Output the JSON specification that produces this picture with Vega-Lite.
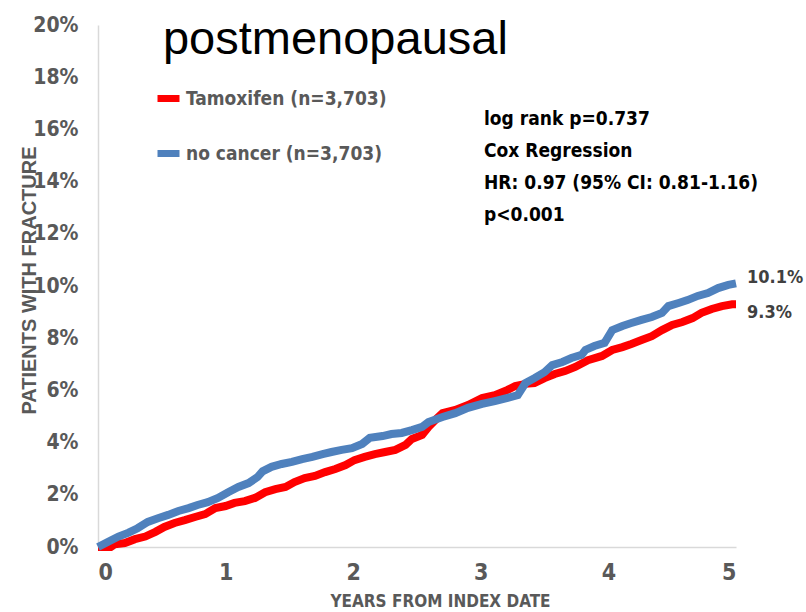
{
  "$schema": "https://vega.github.io/schema/vega-lite/v6.json",
  "width": 638,
  "height": 522,
  "autosize": {"type": "none"},
  "padding": {"left": 98, "top": 25, "right": 70, "bottom": 65},
  "background": "white",
  "config": {
    "view": {"stroke": null},
    "axis": {
      "grid": false,
      "ticks": false,
      "tickSize": 0,
      "domainColor": "#D9D9D9",
      "domainWidth": 1.5,
      "labelColor": "#595959",
      "labelFont": "DejaVu Sans Condensed, Liberation Sans, sans-serif",
      "labelFontWeight": "bold",
      "titleColor": "#595959",
      "titleFontWeight": "bold"
    }
  },
  "datasets": {
    "curves": [
      {"series": "Tamoxifen (n=3,703)", "t": 0, "p": 0},
      {"series": "Tamoxifen (n=3,703)", "t": 0.10, "p": 0},
      {"series": "Tamoxifen (n=3,703)", "t": 0.13, "p": 0.001},
      {"series": "Tamoxifen (n=3,703)", "t": 0.21, "p": 0.0015},
      {"series": "Tamoxifen (n=3,703)", "t": 0.29, "p": 0.003},
      {"series": "Tamoxifen (n=3,703)", "t": 0.37, "p": 0.004},
      {"series": "Tamoxifen (n=3,703)", "t": 0.45, "p": 0.0058},
      {"series": "Tamoxifen (n=3,703)", "t": 0.52, "p": 0.0077},
      {"series": "Tamoxifen (n=3,703)", "t": 0.60, "p": 0.0092},
      {"series": "Tamoxifen (n=3,703)", "t": 0.68, "p": 0.0103},
      {"series": "Tamoxifen (n=3,703)", "t": 0.76, "p": 0.0115},
      {"series": "Tamoxifen (n=3,703)", "t": 0.84, "p": 0.0126},
      {"series": "Tamoxifen (n=3,703)", "t": 0.92, "p": 0.0149},
      {"series": "Tamoxifen (n=3,703)", "t": 1.00, "p": 0.0157},
      {"series": "Tamoxifen (n=3,703)", "t": 1.07, "p": 0.0169},
      {"series": "Tamoxifen (n=3,703)", "t": 1.15, "p": 0.0176},
      {"series": "Tamoxifen (n=3,703)", "t": 1.23, "p": 0.0188},
      {"series": "Tamoxifen (n=3,703)", "t": 1.31, "p": 0.021},
      {"series": "Tamoxifen (n=3,703)", "t": 1.39, "p": 0.0222},
      {"series": "Tamoxifen (n=3,703)", "t": 1.47, "p": 0.023},
      {"series": "Tamoxifen (n=3,703)", "t": 1.54, "p": 0.0249},
      {"series": "Tamoxifen (n=3,703)", "t": 1.62, "p": 0.0264},
      {"series": "Tamoxifen (n=3,703)", "t": 1.70, "p": 0.0272},
      {"series": "Tamoxifen (n=3,703)", "t": 1.78, "p": 0.0287},
      {"series": "Tamoxifen (n=3,703)", "t": 1.86, "p": 0.0299},
      {"series": "Tamoxifen (n=3,703)", "t": 1.94, "p": 0.0314},
      {"series": "Tamoxifen (n=3,703)", "t": 2.01, "p": 0.0333},
      {"series": "Tamoxifen (n=3,703)", "t": 2.09, "p": 0.0345},
      {"series": "Tamoxifen (n=3,703)", "t": 2.17, "p": 0.0356},
      {"series": "Tamoxifen (n=3,703)", "t": 2.25, "p": 0.0364},
      {"series": "Tamoxifen (n=3,703)", "t": 2.33, "p": 0.0372},
      {"series": "Tamoxifen (n=3,703)", "t": 2.41, "p": 0.0391},
      {"series": "Tamoxifen (n=3,703)", "t": 2.46, "p": 0.0414},
      {"series": "Tamoxifen (n=3,703)", "t": 2.54, "p": 0.0429},
      {"series": "Tamoxifen (n=3,703)", "t": 2.59, "p": 0.046},
      {"series": "Tamoxifen (n=3,703)", "t": 2.65, "p": 0.049},
      {"series": "Tamoxifen (n=3,703)", "t": 2.70, "p": 0.0513},
      {"series": "Tamoxifen (n=3,703)", "t": 2.80, "p": 0.0525},
      {"series": "Tamoxifen (n=3,703)", "t": 2.90, "p": 0.0544},
      {"series": "Tamoxifen (n=3,703)", "t": 3.01, "p": 0.0571},
      {"series": "Tamoxifen (n=3,703)", "t": 3.11, "p": 0.0582},
      {"series": "Tamoxifen (n=3,703)", "t": 3.21, "p": 0.0602},
      {"series": "Tamoxifen (n=3,703)", "t": 3.27, "p": 0.0617},
      {"series": "Tamoxifen (n=3,703)", "t": 3.35, "p": 0.0625},
      {"series": "Tamoxifen (n=3,703)", "t": 3.42, "p": 0.0628},
      {"series": "Tamoxifen (n=3,703)", "t": 3.50, "p": 0.0647},
      {"series": "Tamoxifen (n=3,703)", "t": 3.58, "p": 0.0663},
      {"series": "Tamoxifen (n=3,703)", "t": 3.66, "p": 0.0674},
      {"series": "Tamoxifen (n=3,703)", "t": 3.74, "p": 0.069},
      {"series": "Tamoxifen (n=3,703)", "t": 3.84, "p": 0.0716},
      {"series": "Tamoxifen (n=3,703)", "t": 3.95, "p": 0.0732},
      {"series": "Tamoxifen (n=3,703)", "t": 4.03, "p": 0.0755},
      {"series": "Tamoxifen (n=3,703)", "t": 4.11, "p": 0.0766},
      {"series": "Tamoxifen (n=3,703)", "t": 4.18, "p": 0.0778},
      {"series": "Tamoxifen (n=3,703)", "t": 4.26, "p": 0.0793},
      {"series": "Tamoxifen (n=3,703)", "t": 4.34, "p": 0.0808},
      {"series": "Tamoxifen (n=3,703)", "t": 4.42, "p": 0.0831},
      {"series": "Tamoxifen (n=3,703)", "t": 4.50, "p": 0.0851},
      {"series": "Tamoxifen (n=3,703)", "t": 4.58, "p": 0.0862},
      {"series": "Tamoxifen (n=3,703)", "t": 4.66, "p": 0.0877},
      {"series": "Tamoxifen (n=3,703)", "t": 4.73, "p": 0.0897},
      {"series": "Tamoxifen (n=3,703)", "t": 4.81, "p": 0.0912},
      {"series": "Tamoxifen (n=3,703)", "t": 4.89, "p": 0.0923},
      {"series": "Tamoxifen (n=3,703)", "t": 4.97, "p": 0.093},
      {"series": "Tamoxifen (n=3,703)", "t": 5.00, "p": 0.093},
      {"series": "no cancer (n=3,703)", "t": 0, "p": 0},
      {"series": "no cancer (n=3,703)", "t": 0.08, "p": 0.002},
      {"series": "no cancer (n=3,703)", "t": 0.16, "p": 0.004},
      {"series": "no cancer (n=3,703)", "t": 0.24, "p": 0.0055},
      {"series": "no cancer (n=3,703)", "t": 0.31, "p": 0.0072},
      {"series": "no cancer (n=3,703)", "t": 0.39, "p": 0.0096},
      {"series": "no cancer (n=3,703)", "t": 0.47, "p": 0.011},
      {"series": "no cancer (n=3,703)", "t": 0.55, "p": 0.0123},
      {"series": "no cancer (n=3,703)", "t": 0.63, "p": 0.0138},
      {"series": "no cancer (n=3,703)", "t": 0.71, "p": 0.0149},
      {"series": "no cancer (n=3,703)", "t": 0.78, "p": 0.0161},
      {"series": "no cancer (n=3,703)", "t": 0.86, "p": 0.0172},
      {"series": "no cancer (n=3,703)", "t": 0.94, "p": 0.0188},
      {"series": "no cancer (n=3,703)", "t": 1.02, "p": 0.021},
      {"series": "no cancer (n=3,703)", "t": 1.10, "p": 0.023},
      {"series": "no cancer (n=3,703)", "t": 1.18, "p": 0.0245},
      {"series": "no cancer (n=3,703)", "t": 1.25, "p": 0.0268},
      {"series": "no cancer (n=3,703)", "t": 1.29, "p": 0.029},
      {"series": "no cancer (n=3,703)", "t": 1.36, "p": 0.0307},
      {"series": "no cancer (n=3,703)", "t": 1.44, "p": 0.0318},
      {"series": "no cancer (n=3,703)", "t": 1.52, "p": 0.0326},
      {"series": "no cancer (n=3,703)", "t": 1.60, "p": 0.0337},
      {"series": "no cancer (n=3,703)", "t": 1.68, "p": 0.0345},
      {"series": "no cancer (n=3,703)", "t": 1.76, "p": 0.0356},
      {"series": "no cancer (n=3,703)", "t": 1.83, "p": 0.0364},
      {"series": "no cancer (n=3,703)", "t": 1.91, "p": 0.0372},
      {"series": "no cancer (n=3,703)", "t": 1.99, "p": 0.0379},
      {"series": "no cancer (n=3,703)", "t": 2.07, "p": 0.0395},
      {"series": "no cancer (n=3,703)", "t": 2.13, "p": 0.0418},
      {"series": "no cancer (n=3,703)", "t": 2.23, "p": 0.0425},
      {"series": "no cancer (n=3,703)", "t": 2.30, "p": 0.0433},
      {"series": "no cancer (n=3,703)", "t": 2.38, "p": 0.0437},
      {"series": "no cancer (n=3,703)", "t": 2.46, "p": 0.0448},
      {"series": "no cancer (n=3,703)", "t": 2.54, "p": 0.046},
      {"series": "no cancer (n=3,703)", "t": 2.59, "p": 0.0479},
      {"series": "no cancer (n=3,703)", "t": 2.70, "p": 0.0498},
      {"series": "no cancer (n=3,703)", "t": 2.80, "p": 0.0513},
      {"series": "no cancer (n=3,703)", "t": 2.90, "p": 0.0533},
      {"series": "no cancer (n=3,703)", "t": 3.01, "p": 0.0548},
      {"series": "no cancer (n=3,703)", "t": 3.11, "p": 0.0559},
      {"series": "no cancer (n=3,703)", "t": 3.21, "p": 0.0571},
      {"series": "no cancer (n=3,703)", "t": 3.29, "p": 0.0582},
      {"series": "no cancer (n=3,703)", "t": 3.35, "p": 0.0628},
      {"series": "no cancer (n=3,703)", "t": 3.42, "p": 0.0647},
      {"series": "no cancer (n=3,703)", "t": 3.50, "p": 0.067},
      {"series": "no cancer (n=3,703)", "t": 3.56, "p": 0.0697},
      {"series": "no cancer (n=3,703)", "t": 3.64, "p": 0.0709},
      {"series": "no cancer (n=3,703)", "t": 3.71, "p": 0.0724},
      {"series": "no cancer (n=3,703)", "t": 3.79, "p": 0.0736},
      {"series": "no cancer (n=3,703)", "t": 3.82, "p": 0.0755},
      {"series": "no cancer (n=3,703)", "t": 3.89, "p": 0.077},
      {"series": "no cancer (n=3,703)", "t": 3.97, "p": 0.0782},
      {"series": "no cancer (n=3,703)", "t": 4.03, "p": 0.0831},
      {"series": "no cancer (n=3,703)", "t": 4.11, "p": 0.0847},
      {"series": "no cancer (n=3,703)", "t": 4.18, "p": 0.0858},
      {"series": "no cancer (n=3,703)", "t": 4.26, "p": 0.087},
      {"series": "no cancer (n=3,703)", "t": 4.34, "p": 0.0881},
      {"series": "no cancer (n=3,703)", "t": 4.42, "p": 0.0897},
      {"series": "no cancer (n=3,703)", "t": 4.47, "p": 0.0923},
      {"series": "no cancer (n=3,703)", "t": 4.55, "p": 0.0935},
      {"series": "no cancer (n=3,703)", "t": 4.62, "p": 0.0946},
      {"series": "no cancer (n=3,703)", "t": 4.70, "p": 0.0962},
      {"series": "no cancer (n=3,703)", "t": 4.78, "p": 0.0973},
      {"series": "no cancer (n=3,703)", "t": 4.86, "p": 0.0992},
      {"series": "no cancer (n=3,703)", "t": 4.94, "p": 0.1004},
      {"series": "no cancer (n=3,703)", "t": 5.00, "p": 0.101}
    ],
    "ends": [
      {"series": "no cancer (n=3,703)", "t": 5, "p": 0.101, "label": "10.1%"},
      {"series": "Tamoxifen (n=3,703)", "t": 5, "p": 0.093, "label": "9.3%"}
    ],
    "one": [{"id": 1}]
  },
  "layer": [
    {
      "data": {"name": "curves"},
      "mark": {"type": "line", "interpolate": "linear", "strokeWidth": 8, "strokeCap": "butt", "strokeJoin": "miter"},
      "encoding": {
        "x": {
          "field": "t", "type": "quantitative",
          "scale": {"domain": [0, 5], "nice": false},
          "axis": {
            "values": [0, 1, 2, 3, 4, 5], "format": "d",
            "labelFontSize": 23, "labelPadding": 14,
            "title": "YEARS FROM INDEX DATE",
            "titleFont": "DejaVu Sans Condensed, Liberation Sans, sans-serif", "titleFontSize": 17,
            "titleX": 342, "titleY": 54, "titleBaseline": "middle", "titleAlign": "center"
          }
        },
        "y": {
          "field": "p", "type": "quantitative",
          "scale": {"domain": [0, 0.2], "nice": false},
          "axis": {
            "values": [0, 0.02, 0.04, 0.06, 0.08, 0.1, 0.12, 0.14, 0.16, 0.18, 0.2],
            "format": ".0%",
            "labelFontSize": 21, "labelPadding": 20,
            "title": "PATIENTS WITH FRACTURE",
            "titleFont": "Liberation Sans", "titleFontSize": 20,
            "titleX": -69, "titleY": 255, "titleAngle": -90,
            "titleBaseline": "middle", "titleAlign": "center"
          }
        },
        "color": {
          "field": "series", "type": "nominal",
          "scale": {"domain": ["Tamoxifen (n=3,703)", "no cancer (n=3,703)"], "range": ["#FF0000", "#4F81BD"]},
          "legend": {
            "title": null,
            "orient": "none",
            "legendX": 56,
            "legendY": 59,
            "padding": 0,
            "symbolType": "stroke",
            "symbolSize": 484,
            "symbolStrokeWidth": 7,
            "labelFont": "DejaVu Sans Condensed, Liberation Sans, sans-serif",
            "labelFontWeight": "bold",
            "labelFontSize": 19,
            "labelColor": "#595959",
            "labelOffset": 3,
            "labelLimit": 0,
            "rowPadding": 26
          }
        }
      }
    },
    {
      "data": {"name": "one"},
      "mark": {
        "type": "text",
        "text": "postmenopausal",
        "font": "Liberation Sans",
        "fontSize": 47,
        "align": "left",
        "baseline": "alphabetic",
        "color": "#000000"
      },
      "encoding": {
        "x": {"datum": 0.509, "type": "quantitative"},
        "y": {"datum": 0.1889, "type": "quantitative"}
      }
    },
    {
      "data": {"name": "one"},
      "mark": {
        "type": "text",
        "text": ["log rank p=0.737", "Cox Regression", "HR: 0.97 (95%  CI: 0.81-1.16)", "p<0.001"],
        "font": "DejaVu Sans Condensed, Liberation Sans, sans-serif",
        "fontWeight": "bold",
        "fontSize": 19,
        "lineHeight": 32,
        "align": "left",
        "baseline": "alphabetic",
        "color": "#000000"
      },
      "encoding": {
        "x": {"datum": 3.025, "type": "quantitative"},
        "y": {"datum": 0.1617, "type": "quantitative"}
      }
    },
    {
      "data": {"name": "ends"},
      "transform": [{"filter": "datum.label === '10.1%'"}],
      "mark": {"type": "text", "font": "DejaVu Sans Condensed, Liberation Sans, sans-serif", "fontWeight": "bold", "fontSize": 18, "align": "left", "baseline": "middle", "dx": 11, "dy": -5, "color": "#404040"},
      "encoding": {
        "x": {"field": "t", "type": "quantitative"},
        "y": {"field": "p", "type": "quantitative"},
        "text": {"field": "label"}
      }
    },
    {
      "data": {"name": "ends"},
      "transform": [{"filter": "datum.label === '9.3%'"}],
      "mark": {"type": "text", "font": "DejaVu Sans Condensed, Liberation Sans, sans-serif", "fontWeight": "bold", "fontSize": 18, "align": "left", "baseline": "middle", "dx": 11, "dy": 9, "color": "#404040"},
      "encoding": {
        "x": {"field": "t", "type": "quantitative"},
        "y": {"field": "p", "type": "quantitative"},
        "text": {"field": "label"}
      }
    }
  ]
}
